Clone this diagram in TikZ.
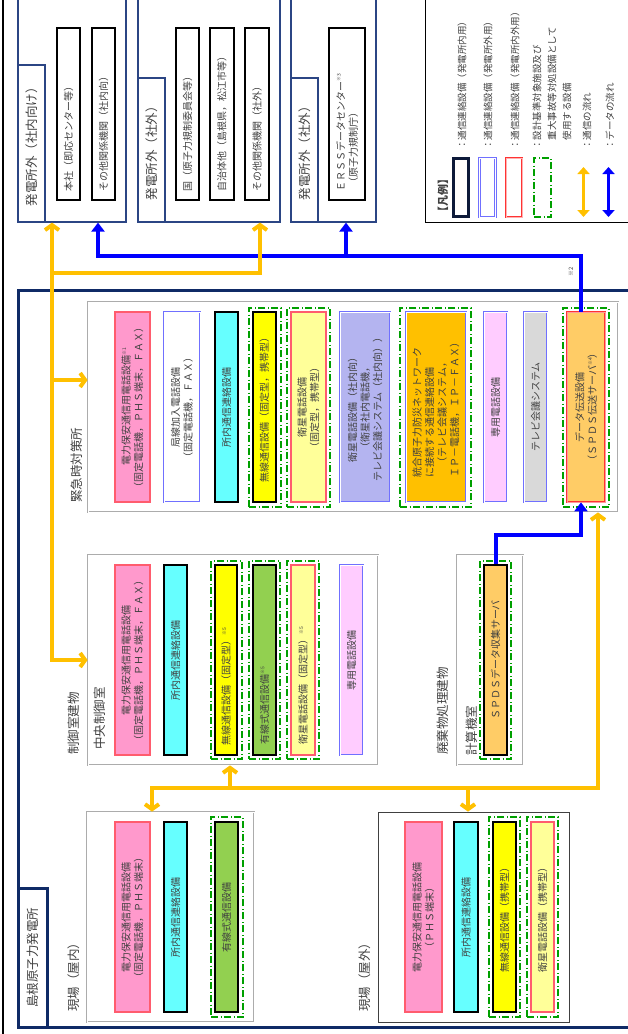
\documentclass[tikz,border=0pt]{standalone}
\usepackage{fontspec}
\setmainfont{Noto Sans CJK JP}
\usepackage{xcolor}
\usetikzlibrary{arrows.meta,positioning,calc}
\definecolor{navyF}{HTML}{0F2A66}
\definecolor{navyG}{HTML}{2B4584}
\definecolor{navyK}{HTML}{0D1A3A}
\definecolor{orng}{HTML}{FFC000}
\definecolor{blu}{HTML}{0000FF}
\definecolor{pinkF}{HTML}{FF99CC}
\definecolor{redD}{HTML}{FF5C6E}
\definecolor{cyanF}{HTML}{66FFFF}
\definecolor{yelF}{HTML}{FFFF00}
\definecolor{ltyF}{HTML}{FFFF99}
\definecolor{grnF}{HTML}{92D050}
\definecolor{lavF}{HTML}{B4B4F0}
\definecolor{orgF}{HTML}{FFC000}
\definecolor{lpkF}{HTML}{FFCCFF}
\definecolor{gryF}{HTML}{D9D9D9}
\definecolor{lorF}{HTML}{FFCC66}
\definecolor{bluD}{HTML}{7070FF}
\definecolor{grnD}{HTML}{00A000}
\definecolor{txt}{HTML}{404040}
\newcommand{\nt}[1]{\raisebox{0.7ex}{\fontsize{5pt}{5pt}\selectfont ※#1}}

\begin{document}
\begin{tikzpicture}[x=1pt, y=-1pt,
  box/.style={rotate=90, draw, inner sep=1pt, align=center, text=txt, font=\fontsize{10pt}{12.5pt}\selectfont},
  kbox/.style={box, draw=black, line width=1.6pt},
  bbox/.style={box, draw=bluD, double=white, double distance=0.8pt, line width=0.7pt},
  pbox/.style={box, fill=pinkF, draw=redD, line width=1.3pt},
  ybox/.style={box, fill=ltyF, draw=redD, line width=1.1pt},
  rbox/.style={box, draw=red!80, double=red!40, double distance=0.9pt, line width=0.7pt},
  gbox/.style={kbox, minimum width=172pt, text width=154pt, inner xsep=9pt, align=left},
  sa/.style={draw=grnD, line width=1.3pt, dash pattern=on 7pt off 2.5pt on 1pt off 2.5pt},
  frm/.style={draw=gray!65, double=white, double distance=1pt, line width=0.8pt},
  grp/.style={draw=navyG, line width=1.2pt},
  tab/.style={rotate=90, draw=navyG, line width=1.2pt, inner sep=0pt, text=txt, font=\fontsize{12.5pt}{14pt}\selectfont},
  lbl/.style={rotate=90, anchor=west, inner sep=0pt, text=txt, font=\fontsize{12.5pt}{14pt}\selectfont},
  leg/.style={rotate=90, anchor=west, inner sep=0pt, align=left, text=txt, font=\fontsize{9.5pt}{15pt}\selectfont},
  ocom/.style={draw=orng, line width=4pt},
  dcom/.style={draw=blu, line width=4pt},
  OT/.tip={Straight Barb[length=5pt,width=14pt]},
  BT/.tip={Triangle[length=9pt,width=13pt]}
]
\useasboundingbox (0,0) rectangle (627,1034);
\draw[line width=2pt] (3,-5) -- (3,1040);

\node[grp, minimum width=108pt, minimum height=242pt] (gin) at (72,101) {};
\node[tab, minimum width=157pt, minimum height=27pt] (tin) at (31.5,143.5) {発電所外（社内向け）};
\node[gbox, minimum height=23pt] (hq) at (68.5,114) {本社（即応センター等）};
\node[gbox, minimum height=23pt] (othin) at (103.5,114) {その他関係機関（社内向）};

\node[grp, minimum width=142pt, minimum height=242pt] (gout) at (209,101) {};
\node[tab, minimum width=144pt, minimum height=27pt] (tout) at (151.5,150) {発電所外（社外）};
\node[gbox, minimum height=23pt] (nra) at (187.5,114) {国（原子力規制委員会等）};
\node[gbox, minimum height=24pt] (pref) at (222,114) {自治体他（島根県，松江市等）};
\node[gbox, minimum height=24pt] (othout) at (257,114) {その他関係機関（社外）};

\node[grp, minimum width=85pt, minimum height=242pt] (gers) at (333.5,101) {};
\node[tab, minimum width=144pt, minimum height=27pt] (ters) at (304.5,150) {発電所外（社外）};
\node[gbox, minimum height=36pt] (erss) at (347,114) {ＥＲＳＳデータセンター\nt{3}\\\hspace{4pt}（原子力規制庁）};

\node[draw=black, line width=1pt, minimum width=215pt, minimum height=242pt] (legend) at (532.5,101) {};
\node[lbl, font=\bfseries\fontsize{11pt}{13pt}\selectfont] (legtitle) at (443,218) {【凡例】};
\node[draw=navyK, line width=2.2pt, minimum width=15pt, minimum height=58pt] (lgk) at (461,187.5) {};
\node[draw=bluD, double=white, double distance=1pt, line width=0.8pt, minimum width=16pt, minimum height=59pt] (lgb) at (487.5,187.5) {};
\node[draw=red!80, double=red!30, double distance=1pt, line width=0.8pt, minimum width=16pt, minimum height=59pt] (lgr) at (514,187.5) {};
\node[sa, minimum width=17pt, minimum height=59pt] (lgg) at (542.5,187.5) {};
\coordinate (lgo1) at (583.5,167);
\coordinate (lgo2) at (583.5,217);
\coordinate (lgd1) at (608.5,167);
\coordinate (lgd2) at (608.5,217);
\draw[ocom, line width=3pt, {Triangle[length=7pt,width=12pt]}-{Triangle[length=7pt,width=12pt]}] (lgo1) -- (lgo2);
\draw[dcom, line width=3pt, {Triangle[length=7pt,width=12pt]}-{Triangle[length=7pt,width=12pt]}] (lgd1) -- (lgd2);
\node[leg] (lt1) at (462,150) {：通信連絡設備（発電所内用）};
\node[leg] (lt2) at (488,150) {：通信連絡設備（発電所外用）};
\node[leg] (lt3) at (515,150) {：通信連絡設備（発電所内外用）};
\node[leg] (lt4) at (552,150) {：設計基準対象施設及び\\　重大事故等対処設備として\\　使用する設備};
\node[leg] (lt5) at (587,150) {：通信の流れ};
\node[leg] (lt6) at (610,150) {：データの流れ};

\node[draw=navyF, line width=3pt, minimum width=632pt, minimum height=737pt] (site) at (334,658.5) {};
\node[tab, draw=navyF, line width=3pt, minimum width=139pt, minimum height=29pt] (sitel) at (32.5,957.5) {島根原子力発電所};
\node[text=txt, rotate=90, inner sep=0pt, font=\fontsize{6pt}{6pt}\selectfont] (n2) at (571,272) {※2};

\node[frm, minimum width=530pt, minimum height=210pt] (eoc) at (353,407) {};
\node[lbl] (eocl) at (77,503) {緊急時対策所};
\node[pbox, minimum width=190pt, minimum height=35pt] (e1) at (132.5,407) {電力保安通信用電話設備\nt{1}\\（固定電話機，ＰＨＳ端末，ＦＡＸ）};
\node[bbox, fill=white, minimum width=190pt, minimum height=36pt] (e2) at (182,407) {局線加入電話設備\\（固定電話機，ＦＡＸ）};
\node[kbox, fill=cyanF, minimum width=190pt, minimum height=23pt] (e3) at (226.5,407) {所内通信連絡設備};
\node[sa, minimum width=32pt, minimum height=199pt] (e4f) at (265,407.5) {};
\node[kbox, fill=yelF, minimum width=190pt, minimum height=23pt] (e4) at (264.5,407) {無線通信設備（固定型，携帯型）};
\node[sa, minimum width=43pt, minimum height=199pt] (e5f) at (308.5,407.5) {};
\node[ybox, minimum width=190pt, minimum height=35pt] (e5) at (308.5,407) {衛星電話設備\\（固定型，携帯型）};
\node[bbox, fill=lavF, minimum width=190pt, minimum height=50pt] (e6) at (365,407) {衛星電話設備（社内向）\\（衛星社内電話機，\\テレビ会議システム（社内向））};
\node[sa, minimum width=71pt, minimum height=199pt] (e7f) at (435.5,407.5) {};
\node[bbox, fill=orgF, align=left, minimum width=190pt, minimum height=60pt] (e7) at (436,407) {統合原子力防災ネットワーク\\に接続する通信連絡設備\\　（テレビ会議システム，\\ＩＰ－電話機，ＩＰ－ＦＡＸ）};
\node[bbox, fill=lpkF, minimum width=190pt, minimum height=23pt] (e8) at (495.5,407) {専用電話設備};
\node[bbox, fill=gryF, minimum width=190pt, minimum height=23pt] (e9) at (535.5,407) {テレビ会議システム};
\node[sa, minimum width=46pt, minimum height=199pt] (e10f) at (586,407.5) {};
\node[rbox, fill=lorF, minimum width=190pt, minimum height=38pt] (spt) at (586,407) {データ伝送設備\\（ＳＰＤＳ伝送サーバ\nt{4}）};

\node[lbl] (ccrb) at (74,755) {制御室建物};
\node[frm, minimum width=290pt, minimum height=210pt] (ccr) at (233,660) {};
\node[lbl] (ccrl) at (100,750) {中央制御室};
\node[pbox, minimum width=190pt, minimum height=35pt] (c1) at (132.5,660) {電力保安通信用電話設備\\（固定電話機，ＰＨＳ端末，ＦＡＸ）};
\node[kbox, fill=cyanF, minimum width=190pt, minimum height=23pt] (c2) at (175.5,660) {所内通信連絡設備};
\node[sa, minimum width=31pt, minimum height=198pt] (c3f) at (226.5,660) {};
\node[kbox, fill=yelF, minimum width=190pt, minimum height=22pt, text width=170pt, inner xsep=10pt, align=left] (c3) at (226,660) {無線通信設備（固定型）\nt{5}};
\node[sa, minimum width=31pt, minimum height=198pt] (c4f) at (264.5,660) {};
\node[kbox, fill=grnF, minimum width=190pt, minimum height=23pt, text width=168pt, inner xsep=11pt, align=left] (c4) at (264.5,660) {有線式通信設備\nt{5}};
\node[sa, minimum width=32pt, minimum height=198pt] (c5f) at (303,660) {};
\node[ybox, minimum width=190pt, minimum height=24pt, text width=168pt, inner xsep=11pt, align=left] (c5) at (303,660) {衛星電話設備（固定型）\nt{5}};
\node[bbox, fill=lpkF, minimum width=190pt, minimum height=23pt] (c6) at (351.5,660) {専用電話設備};

\node[lbl] (wstb) at (443,755) {廃棄物処理建物};
\node[frm, minimum width=66pt, minimum height=210pt] (calc) at (490,660) {};
\node[lbl] (calcl) at (472,756) {計算機室};
\node[sa, minimum width=31pt, minimum height=198pt] (spcf) at (495.5,660) {};
\node[kbox, fill=lorF, minimum width=190pt, minimum height=23pt] (spc) at (495.5,660) {ＳＰＤＳデータ収集サーバ};

\node[lbl] (finl) at (74,1012) {現場（屋内）};
\node[frm, minimum width=167pt, minimum height=210pt] (fin) at (170.5,917) {};
\node[pbox, minimum width=190pt, minimum height=35pt] (f1) at (132.5,917) {電力保安通信用電話設備\\（固定電話機，ＰＨＳ端末）};
\node[kbox, fill=cyanF, minimum width=190pt, minimum height=23pt] (f2) at (175.5,917) {所内通信連絡設備};
\node[sa, minimum width=32pt, minimum height=200pt] (f3f) at (227,917) {};
\node[kbox, fill=grnF, minimum width=190pt, minimum height=23pt] (f3) at (226.5,917) {有線式通信設備};

\node[lbl] (foutl) at (365,1012) {現場（屋外）};
\node[draw=black!75, line width=0.8pt, minimum width=191pt, minimum height=210pt] (fout) at (473.5,917) {};
\node[pbox, minimum width=190pt, minimum height=37pt] (o1) at (423.5,917) {電力保安通信用電話設備\\（ＰＨＳ端末）};
\node[kbox, fill=cyanF, minimum width=190pt, minimum height=24pt] (o2) at (466,917) {所内通信連絡設備};
\node[sa, minimum width=31pt, minimum height=200pt] (o3f) at (504.5,917) {};
\node[kbox, fill=yelF, minimum width=190pt, minimum height=23pt] (o3) at (504.5,917) {無線通信設備（携帯型）};
\node[sa, minimum width=31pt, minimum height=200pt] (o4f) at (542.5,917) {};
\node[ybox, minimum width=190pt, minimum height=23pt] (o4) at (542.5,917) {衛星電話設備（携帯型）};

\coordinate (ba) at (581,256);
\coordinate (bb) at (98,256);
\coordinate (bc) at (346,256);
\coordinate (bd) at (581,535);
\draw[dcom, -{BT}] (ba |- spt.east) -- (ba) -- (bb) -- (bb |- gin.south);
\draw[dcom, -{BT}] (bc) -- (bc |- gers.south);
\draw[dcom, -{BT}] (spc.east) |- (bd) -- (bd |- spt.west);

\coordinate (oa) at (52,273);
\coordinate (ob) at (52,380);
\coordinate (oc) at (260,273);
\draw[ocom, {OT}-{OT}] (gin.south -| oa) -- (oa |- ccr.west) -- (ccr.west);
\draw[ocom, -{OT}] (oa) -| (oc |- gout.south);
\draw[ocom, -{OT}] (ob) -- (ob -| eoc.west);

\coordinate (la) at (152,788);
\coordinate (lb) at (598,788);
\coordinate (lc) at (230,788);
\coordinate (ld) at (468,788);
\draw[ocom, {OT}-{OT}] (la |- fin.north) -- (la) -- (lb) -- (lb |- eoc.south);
\draw[ocom, -{OT}] (lc) -- (lc |- ccr.south);
\draw[ocom, -{OT}] (ld) -- (ld |- fout.north);
\end{tikzpicture}
\end{document}
